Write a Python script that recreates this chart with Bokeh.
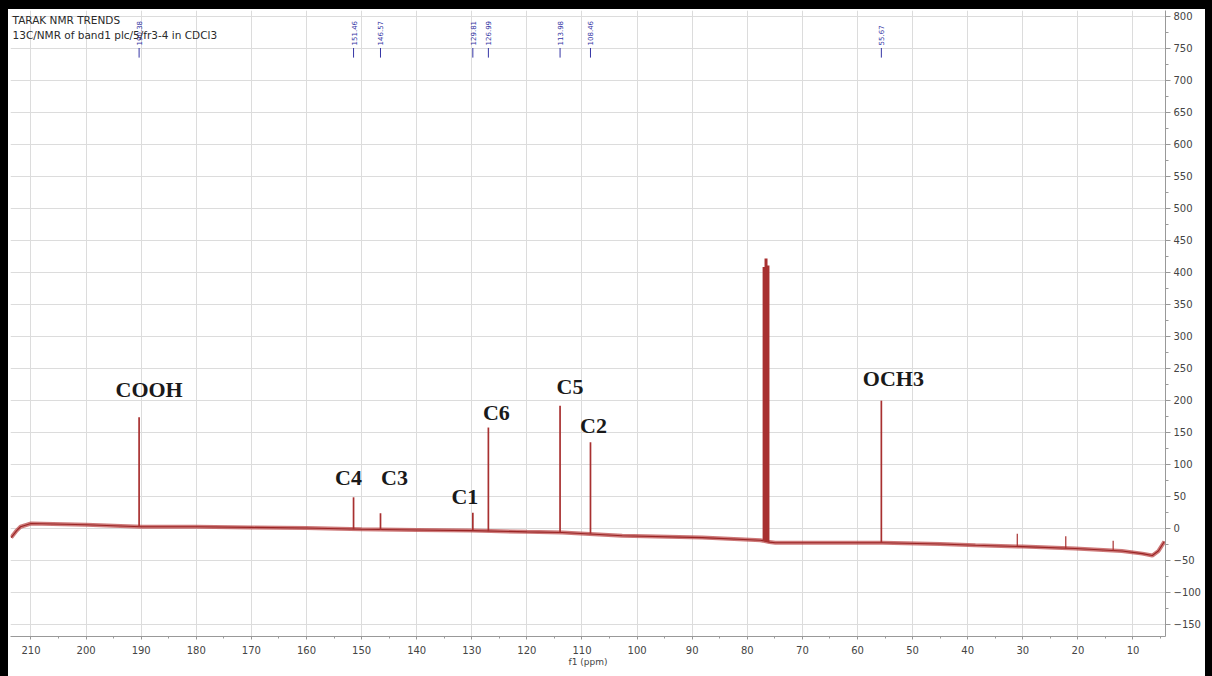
import math
from bokeh.plotting import figure
from bokeh.models import Range1d, FixedTicker, ColumnDataSource
from bokeh.core.properties import value
from bokeh.embed import file_html
from bokeh.resources import INLINE

# ---------------- data ----------------
# baseline of the 13C spectrum (ppm, intensity)
base_ppm = [213.6, 212.6, 211.9, 210.0, 200.0, 190.0, 180.0, 170.0, 160.0, 150.0,
            140.0, 130.0, 120.0, 113.6, 102.7, 88.2, 77.6, 76.0, 74.9, 65.0,
            55.5, 45.0, 38.6, 30.0, 20.5, 12.0, 8.3, 6.5, 5.4, 4.3]
base_int = [-15, -4, 2, 7, 5, 2, 2, 1, 0, -2,
            -3, -4, -6, -7, -12, -15, -19, -22, -23, -23,
            -23, -25, -27, -29, -32, -36, -40, -43, -36, -21]

# assigned peaks
peak_ppm = [190.38, 151.46, 146.57, 129.81, 126.99, 113.98, 108.46, 55.67]
peak_top = [173, 48, 23, 24, 157, 191, 134, 199]
peak_base = [2, -2, -3, -4, -5, -7, -9, -23]
peak_name = ["COOH", "C4", "C3", "C1", "C6", "C5", "C2", "OCH3"]

# CDCl3 solvent triplet
solv_ppm = [76.95, 76.6, 76.25]
solv_top = [408, 421, 410]
solv_base = [-20, -21, -22]

# small impurity peaks
minor_ppm = [31.0, 22.2, 13.6]
minor_top = [-9, -13, -20]
minor_base = [-29, -32, -36]

x_ticks = [210, 200, 190, 180, 170, 160, 150, 140, 130, 120, 110, 100, 90, 80, 70, 60, 50, 40, 30, 20, 10]
y_ticks = [800, 750, 700, 650, 600, 550, 500, 450, 400, 350, 300, 250, 200, 150, 100, 50, 0, -50, -100, -150]

title_lines = ["TARAK NMR TRENDS", "13C/NMR of band1 plc/5/fr3-4 in CDCl3"]

# ---------------- styles (label offsets in screen px) ----------------
label_dx = [10, -5, 14, -8, 8, 10, 3, 12]
label_dy = [-28, -20, -36, -16, -15, -19, -17, -22]

RED = "#a83030"
BLUE = "#3535a5"

p = figure(width=1212, height=676, output_backend="svg", toolbar_location=None,
           x_range=Range1d(213.72, 4.1), y_range=Range1d(-169.5, 808.6),
           y_axis_location="right", min_border_left=10, min_border_top=10,
           min_border_right=47, min_border_bottom=40)
p.outline_line_color = None
p.background_fill_color = "white"
p.border_fill_color = None
p.styles = {"background-color": "white",
            "box-shadow": "inset 8px 9px 0 0 #000, inset -7px 0 0 0 #000"}

# grids
p.xgrid.ticker = FixedTicker(ticks=x_ticks)
p.ygrid.ticker = FixedTicker(ticks=y_ticks)
p.xgrid.grid_line_color = "#dcdcdc"
p.ygrid.grid_line_color = "#dcdcdc"

# axes
xa = p.xaxis[0]
xa.ticker = FixedTicker(ticks=x_ticks, minor_ticks=[t + 5 for t in x_ticks] + [5])
xa.axis_label = "f1 (ppm)"
xa.axis_label_text_font = "DejaVu Sans"
xa.axis_label_text_font_style = "normal"
xa.axis_label_text_font_size = "9px"
xa.axis_label_text_color = "#444444"
xa.axis_label_standoff = 0
xa.major_label_text_font = "DejaVu Sans"
xa.major_label_text_font_size = "10px"
xa.major_label_text_color = "#444444"
xa.major_label_standoff = 6
xa.axis_line_color = "#999999"
xa.major_tick_line_color = "#999999"
xa.minor_tick_line_color = "#999999"
xa.major_tick_out = 3
xa.major_tick_in = 0
xa.minor_tick_out = 2
xa.minor_tick_in = 0

ya = p.yaxis[0]
ya.ticker = FixedTicker(ticks=y_ticks, minor_ticks=[t + 25 for t in y_ticks])
ya.major_label_text_font = "DejaVu Sans"
ya.major_label_text_font_size = "10px"
ya.major_label_text_color = "#444444"
ya.major_label_standoff = 3
ya.axis_line_color = "#999999"
ya.major_tick_line_color = "#999999"
ya.minor_tick_line_color = "#999999"
ya.major_tick_out = 5
ya.major_tick_in = 0
ya.minor_tick_out = 3
ya.minor_tick_in = 0

# baseline (noise band + centre line)
p.line(base_ppm, base_int, line_color="#b84040", line_width=4, line_alpha=0.7)
p.line(base_ppm, base_int, line_color="#9a2525", line_width=1.1)

# peaks
p.segment(x0=peak_ppm, y0=peak_base, x1=peak_ppm, y1=peak_top, line_color=RED, line_width=1.7)
p.segment(x0=solv_ppm, y0=solv_base, x1=solv_ppm, y1=solv_top, line_color=RED, line_width=3)
p.segment(x0=minor_ppm, y0=minor_base, x1=minor_ppm, y1=minor_top, line_color=RED, line_width=1.2)

# assignment labels
lab_src = ColumnDataSource(dict(x=peak_ppm, y=peak_top, t=peak_name, dx=label_dx, dy=label_dy))
p.text(x="x", y="y", text="t", x_offset="dx", y_offset="dy", source=lab_src,
       text_font=value("Liberation Serif"), text_font_style="bold", text_font_size="22px",
       text_color="#1a1a1a", text_align="center", text_baseline="middle")

# peak-picking labels on top
pk_src = ColumnDataSource(dict(x=peak_ppm, t=["%.2f" % v for v in peak_ppm]))
p.text(x="x", y=754, text="t", source=pk_src, angle=math.pi / 2,
       text_font=value("DejaVu Sans"), text_font_size="7px", text_color=BLUE,
       text_align="left", text_baseline="middle")
p.segment(x0=peak_ppm, y0=735, x1=peak_ppm, y1=750, line_color=BLUE, line_width=1)

# header text (top-left)
p.text(x=213.35, y=[793, 771], text=title_lines, text_font=value("DejaVu Sans"),
       text_font_size="10.5px", text_color="#2a2a2a", text_align="left", text_baseline="middle")

open("out.html", "w").write(file_html(p, INLINE))
